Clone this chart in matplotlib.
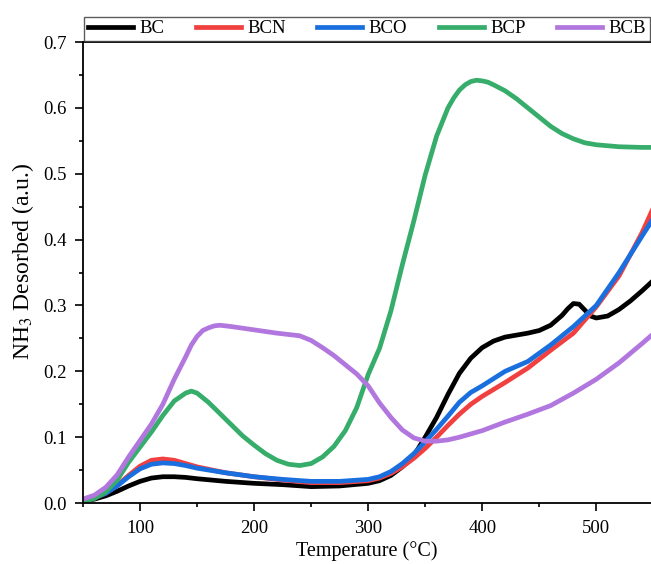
import matplotlib
matplotlib.use('Agg')
import matplotlib.pyplot as plt
from matplotlib.ticker import MultipleLocator

plt.rcParams['font.family'] = ['Liberation Serif', 'DejaVu Serif']
plt.rcParams['mathtext.fontset'] = 'stix'

# NH3-TPD profiles, temperature in °C
t_bc = [50, 60, 70, 80, 90, 100, 110, 120, 130, 140, 150, 175, 200, 225, 250, 275, 300, 310, 320,
        330, 340, 350, 360, 370, 380, 390, 400, 410, 420, 430, 440, 450, 460, 470, 475, 480, 485,
        490, 495, 500, 510, 520, 530, 540, 550]
bc = [0.003, 0.006, 0.011, 0.018, 0.026, 0.033, 0.038, 0.040, 0.040, 0.039, 0.037, 0.033, 0.030,
      0.028, 0.025, 0.026, 0.030, 0.034, 0.042, 0.055, 0.072, 0.100, 0.130, 0.165, 0.197, 0.220,
      0.236, 0.246, 0.252, 0.255, 0.258, 0.262, 0.270, 0.285, 0.295, 0.303, 0.302, 0.293, 0.284,
      0.281, 0.284, 0.294, 0.307, 0.322, 0.338]

t_n = [50, 60, 70, 80, 90, 100, 110, 120, 130, 140, 150, 175, 200, 225, 250, 275, 300, 310, 320,
       330, 340, 350, 360, 370, 380, 390, 400, 420, 440, 460, 480, 500, 520, 540, 550]
bcn = [0.003, 0.008, 0.015, 0.027, 0.042, 0.056, 0.065, 0.067, 0.065, 0.060, 0.055, 0.046, 0.040,
       0.035, 0.031, 0.031, 0.034, 0.038, 0.045, 0.055, 0.068, 0.083, 0.100, 0.118, 0.135, 0.150,
       0.162, 0.183, 0.205, 0.232, 0.258, 0.298, 0.345, 0.410, 0.448]
bco = [0.003, 0.008, 0.015, 0.026, 0.040, 0.052, 0.059, 0.061, 0.060, 0.057, 0.053, 0.046, 0.040,
       0.036, 0.033, 0.033, 0.036, 0.040, 0.048, 0.060, 0.075, 0.093, 0.112, 0.132, 0.153, 0.168,
       0.178, 0.200, 0.215, 0.240, 0.268, 0.300, 0.350, 0.405, 0.432]

t_p = [50, 60, 70, 80, 90, 100, 110, 120, 130, 140, 145, 150, 160, 170, 180, 190, 200, 210, 220,
       230, 240, 250, 260, 270, 280, 290, 300, 310, 320, 330, 340, 350, 360, 370, 375, 380, 385,
       390, 395, 400, 405, 410, 420, 430, 440, 450, 460, 470, 480, 490, 500, 520, 540, 550]
bcp = [0.002, 0.007, 0.017, 0.035, 0.062, 0.085, 0.108, 0.133, 0.155, 0.167, 0.170, 0.167, 0.153,
       0.136, 0.119, 0.102, 0.088, 0.075, 0.065, 0.059, 0.057, 0.060, 0.070, 0.086, 0.110, 0.145,
       0.195, 0.235, 0.292, 0.362, 0.428, 0.498, 0.557, 0.600, 0.615, 0.627, 0.635, 0.640, 0.642,
       0.641, 0.639, 0.635, 0.626, 0.614, 0.600, 0.586, 0.572, 0.561, 0.553, 0.547, 0.544, 0.541,
       0.540, 0.540]

t_b = [50, 60, 70, 80, 90, 100, 110, 120, 130, 140, 145, 150, 155, 160, 165, 170, 180, 200, 220,
       240, 250, 260, 270, 280, 290, 300, 310, 320, 330, 340, 350, 360, 370, 380, 400, 420, 440,
       460, 480, 500, 520, 540, 550]
bcb = [0.006, 0.012, 0.024, 0.043, 0.070, 0.095, 0.120, 0.150, 0.188, 0.222, 0.240, 0.253, 0.262,
       0.266, 0.269, 0.270, 0.268, 0.263, 0.258, 0.254, 0.247, 0.236, 0.224, 0.210, 0.196, 0.178,
       0.152, 0.130, 0.111, 0.099, 0.094, 0.094, 0.096, 0.100, 0.110, 0.123, 0.135, 0.148, 0.167,
       0.188, 0.213, 0.242, 0.257]

fig = plt.figure(figsize=(6.51, 5.64), dpi=100)
ax = fig.add_axes([0.1275, 0.108, 0.8725, 0.8175])

lw = 3.4
ax.plot(t_bc, bc, color='black', lw=lw, label='BC')
ax.plot(t_n, bcn, color='#F14040', lw=lw, label='BCN')
ax.plot(t_n, bco, color='#1A6FDF', lw=lw, label='BCO')
ax.plot(t_p, bcp, color='#37AD6B', lw=lw, label='BCP')
ax.plot(t_b, bcb, color='#B177DE', lw=lw, label='BCB')

ax.set_xlim(50, 548)
ax.set_ylim(0, 0.7)
ax.xaxis.set_major_locator(MultipleLocator(100))
ax.xaxis.set_minor_locator(MultipleLocator(50))
ax.yaxis.set_major_locator(MultipleLocator(0.1))
ax.yaxis.set_minor_locator(MultipleLocator(0.05))
ax.tick_params(which='major', length=6, width=1.2, labelsize=13.5, pad=6)
ax.tick_params(which='minor', length=3, width=1.2)
ax.spines['right'].set_visible(False)
for s in ['left', 'bottom', 'top']:
    ax.spines[s].set_linewidth(1.3)

ax.set_xlabel('Temperature (°C)', fontsize=14.5, labelpad=3)
ax.set_ylabel('NH$_3$ Desorbed (a.u.)', fontsize=17)
ax.yaxis.set_label_coords(-0.083, 0.525)

leg = fig.legend(loc='lower left', bbox_to_anchor=(0.129, 0.927, 0.869, 0.053), mode='expand',
                 ncol=5, fontsize=13.5, handlelength=2.4, handletextpad=0.35, columnspacing=1.0,
                 fancybox=False, borderaxespad=0, borderpad=0.2, frameon=True)
leg.get_frame().set_edgecolor('#333333')
leg.get_frame().set_linewidth(1.0)

fig.savefig('out.png', dpi=100)
